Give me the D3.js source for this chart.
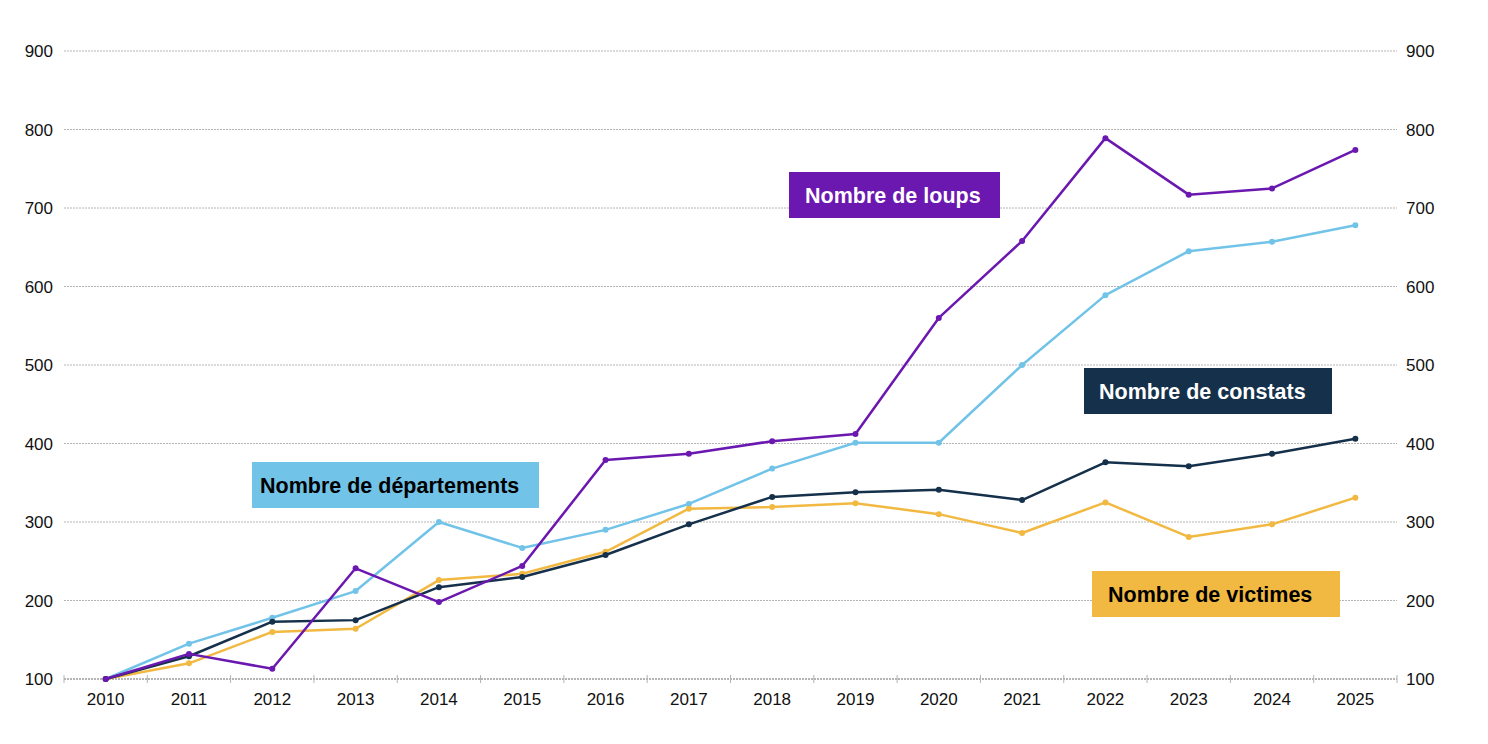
<!doctype html>
<html lang="fr">
    <head>
        <meta charset="utf-8">
        <title>Loups</title>
        <script type="text/javascript" src="https://cdn.jsdelivr.net/npm/d3@7"></script>
        <style>
            body { margin: 0; background: #fff; }
            text { font-family: "Liberation Sans", Arial, sans-serif; }
        </style>
    </head>
    <body>
        <script type="text/javascript">

            var years = ["2010","2011","2012","2013","2014","2015","2016","2017",
                         "2018","2019","2020","2021","2022","2023","2024","2025"];
            var yTicks = [100, 200, 300, 400, 500, 600, 700, 800, 900];

            var loups        = [100, 132, 113, 241, 198, 244, 379, 387, 403, 412, 560, 658, 789, 717, 725, 774];
            var departements = [100, 145, 178, 212, 300, 267, 290, 323, 368, 401, 401, 500, 589, 645, 657, 678];
            var constats     = [100, 129, 173, 175, 217, 230, 258, 297, 332, 338, 341, 328, 376, 371, 387, 406];
            var victimes     = [100, 120, 160, 164, 226, 234, 262, 317, 319, 324, 310, 286, 325, 281, 297, 331];

            var series = [
                {name: "Nombre de départements", values: departements, color: "#72c3e8"},
                {name: "Nombre de victimes", values: victimes, color: "#f2b942"},
                {name: "Nombre de constats", values: constats, color: "#15304a"},
                {name: "Nombre de loups", values: loups, color: "#6b18b0"}
            ];

            // label boxes, placed by hand like in the original
            var labels = [
                {i: 3, x: 789, y: 172, w: 211, h: 46, pad: 16, fill: "#fff"},
                {i: 2, x: 1084, y: 368, w: 248, h: 46, pad: 15, fill: "#fff"},
                {i: 0, x: 252, y: 462, w: 287, h: 46, pad: 8, fill: "#000"},
                {i: 1, x: 1092, y: 571, w: 248, h: 46, pad: 16, fill: "#000"}
            ];

            var svgW = 1488, svgH = 744;
            var plot = {left: 64, right: 1397, top: 51, bottom: 679};

            var svg = d3.select("body")
                        .append("svg")
                        .attr("width", svgW)
                        .attr("height", svgH);

            var x = d3.scaleBand()
                      .domain(years)
                      .range([plot.left, plot.right]);

            var y = d3.scaleLinear()
                      .domain([100, 900])
                      .range([plot.bottom, plot.top]);

            // grid lines
            svg.append("g")
               .selectAll("line")
               .data(yTicks.slice(1))
               .enter()
               .append("line")
               .attr("x1", plot.left)
               .attr("x2", plot.right)
               .attr("y1", d => y(d))
               .attr("y2", d => y(d))
               .style("stroke", "#b4b4b4")
               .style("stroke-width", 1)
               .style("stroke-dasharray", "2,1");

            // left and right axes
            var leftAxis = d3.axisLeft(y).tickValues(yTicks).tickSize(0).tickPadding(11);
            var rightAxis = d3.axisRight(y).tickValues(yTicks).tickSize(0).tickPadding(9);

            [svg.append("g").attr("transform", "translate(" + plot.left + ",0)").call(leftAxis),
             svg.append("g").attr("transform", "translate(" + plot.right + ",0)").call(rightAxis)]
                .forEach(g => {
                    g.select(".domain").remove();
                    g.selectAll("text")
                     .style("font-size", "17px")
                     .style("fill", "#111")
                     .attr("dy", "0.35em");
                });

            // bottom axis
            var bottom = svg.append("g")
                            .attr("transform", "translate(0," + plot.bottom + ")")
                            .call(d3.axisBottom(x).tickSize(0).tickPadding(14));
            bottom.select(".domain").remove();
            bottom.selectAll("text")
                  .style("font-size", "17px")
                  .style("fill", "#111");

            bottom.append("line")
                  .attr("x1", plot.left)
                  .attr("x2", plot.right)
                  .style("stroke", "#b4b4b4")
                  .style("stroke-width", 2)
                  .style("stroke-dasharray", "2,1");

            var edges = years.map(d => x(d)).concat([x(years[years.length - 1]) + x.bandwidth()]);
            bottom.selectAll(".edge")
                  .data(edges)
                  .enter()
                  .append("line")
                  .attr("class", "edge")
                  .attr("x1", d => d)
                  .attr("x2", d => d)
                  .attr("y1", -4)
                  .attr("y2", 4)
                  .style("stroke", "#b4b4b4")
                  .style("stroke-width", 1);

            // lines
            var cx = (d, i) => x(years[i]) + x.bandwidth() / 2;
            var line = d3.line()
                         .x(cx)
                         .y(d => y(d));

            series.forEach(s => {
                var g = svg.append("g");
                g.append("path")
                 .datum(s.values)
                 .attr("d", line)
                 .style("fill", "none")
                 .style("stroke", s.color)
                 .style("stroke-width", 2.5)
                 .style("stroke-linejoin", "round");
                g.selectAll("circle")
                 .data(s.values)
                 .enter()
                 .append("circle")
                 .attr("cx", cx)
                 .attr("cy", d => y(d))
                 .attr("r", 3)
                 .style("fill", s.color);
            });

            // labels
            labels.forEach(l => {
                var s = series[l.i];
                svg.append("rect")
                   .attr("x", l.x)
                   .attr("y", l.y)
                   .attr("width", l.w)
                   .attr("height", l.h)
                   .style("fill", s.color);
                svg.append("text")
                   .attr("x", l.x + l.pad)
                   .attr("y", l.y + l.h / 2 + 8)
                   .style("font-size", "21.5px")
                   .style("font-weight", "bold")
                   .style("fill", l.fill)
                   .text(s.name);
            });
        </script>
    </body>
</html>
